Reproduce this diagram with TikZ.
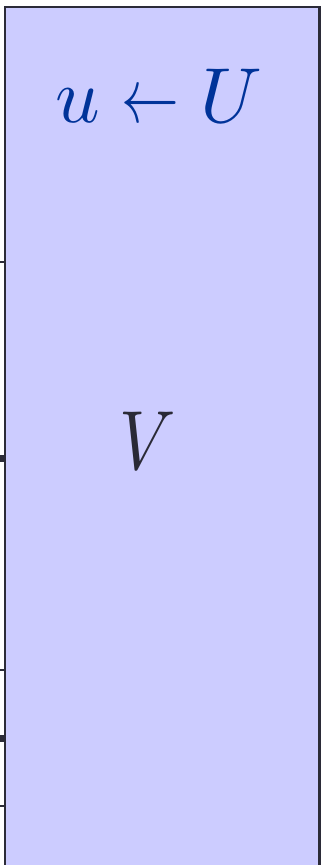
\documentclass[tikz,border=0pt]{standalone}
\usepackage{amsmath}
\usepackage{graphicx}
\definecolor{boxfill}{HTML}{CCCCFF}
\definecolor{boxline}{HTML}{2B2B38}
\definecolor{textblue}{HTML}{003399}
\definecolor{textdark}{HTML}{2A2A36}
\tikzset{
  panel/.style={draw=boxline, fill=boxfill, line width=2.6pt, inner sep=0pt},
  thinstub/.style={draw=boxline, line width=1.2pt},
  thickstub/.style={draw=boxline, line width=6.5pt},
}
\newcommand{\shortleftarrow}{\mathrel{\scalebox{0.74}[1]{$\leftarrow$}}}
\begin{document}
\begin{tikzpicture}[x=1pt,y=-1pt]
\useasboundingbox (0,0) rectangle (327,865);
\node[panel, minimum width=314.5pt, minimum height=870pt, anchor=north west] (box) at (3.5,5.5) {};
\node[text=textdark, anchor=base] (v) at (148,469) {\scalebox{7.0}[8.4]{$V$}};
\node[text=textblue, anchor=base] (uu) at (159,122) {\scalebox{7.8}{$u \shortleftarrow U$}};
\coordinate (s1) at (-2,262);
\coordinate (s2) at (-2,458.5);
\coordinate (s3) at (-2,670);
\coordinate (s4) at (-2,738.5);
\coordinate (s5) at (-2,806);
\draw[thinstub] (s1) -- (box.west |- s1);
\draw[thickstub] (s2) -- (box.west |- s2);
\draw[thinstub] (s3) -- (box.west |- s3);
\draw[thickstub] (s4) -- (box.west |- s4);
\draw[thinstub] (s5) -- (box.west |- s5);
\end{tikzpicture}
\end{document}
